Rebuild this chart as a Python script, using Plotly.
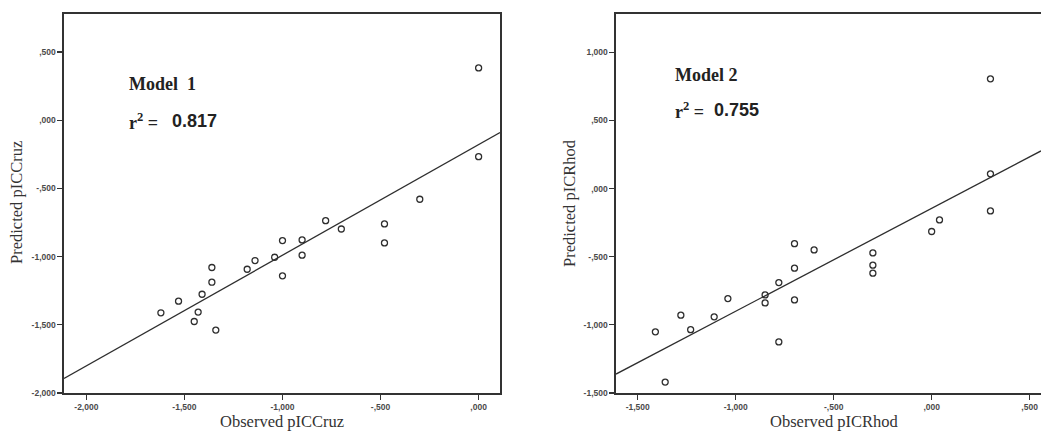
import plotly.graph_objects as go

# ---------------- data ----------------
obs_cruz = [0.00, 0.00, -0.30, -0.48, -0.48, -0.78, -0.70, -0.90, -0.90, -1.00, -1.04,
            -1.00, -1.14, -1.18, -1.36, -1.36, -1.41, -1.53, -1.62, -1.43, -1.45, -1.34]
pred_cruz = [0.383, -0.268, -0.580, -0.761, -0.900, -0.737, -0.798, -0.878, -0.990, -0.883, -1.005,
             -1.141, -1.029, -1.093, -1.080, -1.188, -1.276, -1.327, -1.412, -1.407, -1.476, -1.539]
fit_cruz_slope = 0.811
fit_cruz_intercept = -0.179

obs_rhod = [0.30, 0.30, 0.30, 0.04, 0.00, -0.30, -0.30, -0.30, -0.60, -0.70, -0.70,
            -0.70, -0.78, -0.78, -0.85, -0.85, -1.04, -1.11, -1.23, -1.28, -1.41, -1.36]
pred_rhod = [0.805, 0.108, -0.164, -0.230, -0.315, -0.472, -0.562, -0.621, -0.450, -0.404, -0.584,
             -0.817, -0.690, -1.125, -0.780, -0.839, -0.807, -0.941, -1.035, -0.929, -1.051, -1.420]
fit_rhod_slope = 0.755
fit_rhod_intercept = -0.145

x1_ticks = [-2.0, -1.5, -1.0, -0.5, 0.0]
x1_labels = ["-2,000", "-1,500", "-1,000", "-,500", ",000"]
y1_ticks = [-2.0, -1.5, -1.0, -0.5, 0.0, 0.5]
y1_labels = ["-2,000", "-1,500", "-1,000", "-,500", ",000", ",500"]
x2_ticks = [-1.5, -1.0, -0.5, 0.0, 0.5]
x2_labels = ["-1,500", "-1,000", "-,500", ",000", ",500"]
y2_ticks = [-1.5, -1.0, -0.5, 0.0, 0.5, 1.0]
y2_labels = ["-1,500", "-1,000", "-,500", ",000", ",500", "1,000"]

x1_range = [-2.114, 0.109]
y1_range = [-2.0, 0.778]
x2_range = [-1.611, 0.558]
y2_range = [-1.5, 1.281]

model1_label = "Model\u00a0\u00a01"
model2_label = "Model 2"
r2_model1 = "0.817"
r2_model2 = "0.755"

# ---------------- figure ----------------
W, H = 1041, 437
INK = "#2e2e2e"
marker = dict(symbol="circle-open", size=6, color=INK, line=dict(width=1.3, color=INK))

fig = go.Figure()
fig.add_trace(go.Scatter(x=obs_cruz, y=pred_cruz, mode="markers", marker=marker,
                         xaxis="x", yaxis="y", showlegend=False))
fig.add_trace(go.Scatter(x=x1_range,
                         y=[fit_cruz_slope * v + fit_cruz_intercept for v in x1_range],
                         mode="lines", line=dict(color=INK, width=1.3),
                         xaxis="x", yaxis="y", showlegend=False))
fig.add_trace(go.Scatter(x=obs_rhod, y=pred_rhod, mode="markers", marker=marker,
                         xaxis="x2", yaxis="y2", showlegend=False))
fig.add_trace(go.Scatter(x=x2_range,
                         y=[fit_rhod_slope * v + fit_rhod_intercept for v in x2_range],
                         mode="lines", line=dict(color=INK, width=1.3),
                         xaxis="x2", yaxis="y2", showlegend=False))

tickfont = dict(family="Liberation Sans, Arial, sans-serif", size=8.5, color="#4a4a4a", weight="bold")
common = dict(showgrid=False, zeroline=False, showline=True, linecolor="#333333", linewidth=1.6,
              ticks="outside", ticklen=5, tickwidth=1.2, tickcolor="#333333",
              tickfont=tickfont, tickmode="array", fixedrange=True, automargin=False)

ydom = [1 - 393 / H, 1 - 14 / H]
fig.update_layout(
    width=W, height=H,
    margin=dict(l=0, r=0, t=0, b=0, pad=0),
    paper_bgcolor="white", plot_bgcolor="white",
    hovermode=False,
    xaxis=dict(domain=[64 / W, 500 / W], range=x1_range, tickvals=x1_ticks, ticktext=x1_labels,
               anchor="y", mirror=True, **common),
    yaxis=dict(domain=ydom, range=y1_range, tickvals=y1_ticks, ticktext=y1_labels,
               anchor="x", mirror=True, **common),
    xaxis2=dict(domain=[616 / W, 1.0], range=x2_range, tickvals=x2_ticks, ticktext=x2_labels,
                anchor="y2", mirror=True, **common),
    yaxis2=dict(domain=ydom, range=y2_range, tickvals=y2_ticks, ticktext=y2_labels,
                anchor="x2", mirror=False, **common),
)

serif = "Liberation Serif, Times New Roman, serif"
sans = "Liberation Sans, Arial, sans-serif"


def px(x, y):
    return x / W, 1 - y / H


annots = []
# axis titles
for txt, (x, y), ang in [("Observed pICCruz", (282, 421), 0),
                         ("Observed pICRhod", (834, 421), 0),
                         ("Predicted pICCruz", (17, 203), -90),
                         ("Predicted pICRhod", (570, 203), -90)]:
    ax, ay = px(x, y)
    annots.append(dict(text=txt, x=ax, y=ay, xref="paper", yref="paper", showarrow=False,
                       xanchor="center", yanchor="middle", textangle=ang,
                       font=dict(family=serif, size=16.5, color="#333333")))
# model labels
for txt, (x, y), fam in [(model1_label, (127, 84), serif),
                         ("r<sup>2</sup> =", (127, 121), serif),
                         (r2_model1, (170, 121), sans),
                         (model2_label, (673, 75), serif),
                         ("r<sup>2</sup> =", (673, 110), serif),
                         (r2_model2, (712, 110), sans)]:
    ax, ay = px(x, y)
    annots.append(dict(text="<b>" + txt + "</b>", x=ax, y=ay, xref="paper", yref="paper",
                       showarrow=False, xanchor="left", yanchor="middle",
                       font=dict(family=fam, size=18, color="#222222")))
fig.update_layout(annotations=annots)

fig.write_html("out.html",
               config={"displayModeBar": False, "staticPlot": True},
               post_script="document.body.style.margin='0';document.body.style.overflow='hidden';")
